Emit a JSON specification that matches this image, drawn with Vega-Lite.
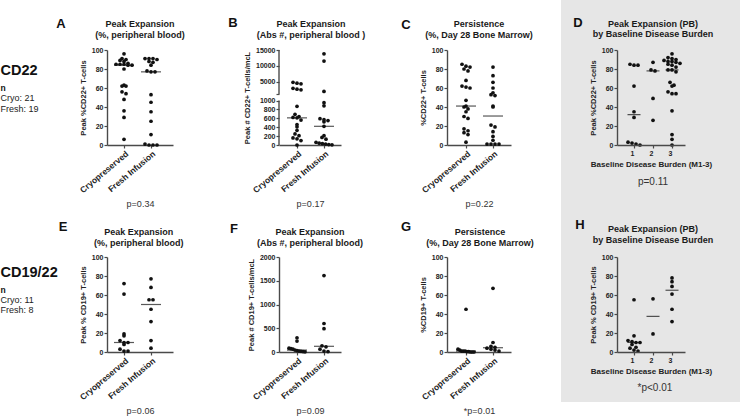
{
"$schema": "https://vega.github.io/schema/vega-lite/v6.json",
"padding": 0,
"background": "white",
"config": {
 "font": "Liberation Sans",
 "view": {"stroke": null},
 "axis": {"domainColor": "#4a4a4a", "domainWidth": 1.4, "tickColor": "#4a4a4a", "tickWidth": 1.2, "tickSize": 3, "tickCount": 50, "labelFontSize": 7, "labelFontWeight": "bold", "labelColor": "#222222", "labelPadding": 1, "labelOverlap": false, "titleFontSize": 7.5, "titleFontWeight": "bold", "titleColor": "#222222", "titlePadding": 4, "grid": false},
 "axisX": {"labelFontSize": 8.5, "labelAngle": -40, "titleFontWeight": "normal", "titleFontSize": 9, "titleColor": "#333333", "titlePadding": 5},
 "text": {"font": "Liberation Sans"}
},
"datasets": {
 "A": [
  {"group":"Cryopreserved","value":96},{"group":"Cryopreserved","value":91},{"group":"Cryopreserved","value":90},{"group":"Cryopreserved","value":89},{"group":"Cryopreserved","value":88},{"group":"Cryopreserved","value":86},{"group":"Cryopreserved","value":85},{"group":"Cryopreserved","value":85},{"group":"Cryopreserved","value":85},{"group":"Cryopreserved","value":84},{"group":"Cryopreserved","value":84},{"group":"Cryopreserved","value":80},{"group":"Cryopreserved","value":63},{"group":"Cryopreserved","value":62},{"group":"Cryopreserved","value":62},{"group":"Cryopreserved","value":56},{"group":"Cryopreserved","value":54},{"group":"Cryopreserved","value":48},{"group":"Cryopreserved","value":36},{"group":"Cryopreserved","value":29},{"group":"Cryopreserved","value":6},
  {"group":"Fresh Infusion","value":91},{"group":"Fresh Infusion","value":91},{"group":"Fresh Infusion","value":91},{"group":"Fresh Infusion","value":90},{"group":"Fresh Infusion","value":88},{"group":"Fresh Infusion","value":87},{"group":"Fresh Infusion","value":84},{"group":"Fresh Infusion","value":78},{"group":"Fresh Infusion","value":77},{"group":"Fresh Infusion","value":77},{"group":"Fresh Infusion","value":53},{"group":"Fresh Infusion","value":45},{"group":"Fresh Infusion","value":35},{"group":"Fresh Infusion","value":25},{"group":"Fresh Infusion","value":11},{"group":"Fresh Infusion","value":1},{"group":"Fresh Infusion","value":0},{"group":"Fresh Infusion","value":0},{"group":"Fresh Infusion","value":0}
 ],
 "B": [
  {"group":"Cryopreserved","value":4800},{"group":"Cryopreserved","value":4500},{"group":"Cryopreserved","value":4300},{"group":"Cryopreserved","value":2900},{"group":"Cryopreserved","value":2600},{"group":"Cryopreserved","value":2400},{"group":"Cryopreserved","value":870},{"group":"Cryopreserved","value":690},{"group":"Cryopreserved","value":640},{"group":"Cryopreserved","value":620},{"group":"Cryopreserved","value":610},{"group":"Cryopreserved","value":560},{"group":"Cryopreserved","value":460},{"group":"Cryopreserved","value":410},{"group":"Cryopreserved","value":330},{"group":"Cryopreserved","value":250},{"group":"Cryopreserved","value":210},{"group":"Cryopreserved","value":160},{"group":"Cryopreserved","value":140},{"group":"Cryopreserved","value":100},{"group":"Cryopreserved","value":0},
  {"group":"Fresh Infusion","value":13800},{"group":"Fresh Infusion","value":11500},{"group":"Fresh Infusion","value":1900},{"group":"Fresh Infusion","value":950},{"group":"Fresh Infusion","value":880},{"group":"Fresh Infusion","value":590},{"group":"Fresh Infusion","value":570},{"group":"Fresh Infusion","value":550},{"group":"Fresh Infusion","value":520},{"group":"Fresh Infusion","value":420},{"group":"Fresh Infusion","value":210},{"group":"Fresh Infusion","value":170},{"group":"Fresh Infusion","value":130},{"group":"Fresh Infusion","value":60},{"group":"Fresh Infusion","value":40},{"group":"Fresh Infusion","value":30},{"group":"Fresh Infusion","value":20},{"group":"Fresh Infusion","value":10},{"group":"Fresh Infusion","value":5}
 ],
 "C": [
  {"group":"Cryopreserved","value":85},{"group":"Cryopreserved","value":83},{"group":"Cryopreserved","value":82},{"group":"Cryopreserved","value":80},{"group":"Cryopreserved","value":78},{"group":"Cryopreserved","value":68},{"group":"Cryopreserved","value":62},{"group":"Cryopreserved","value":61},{"group":"Cryopreserved","value":60},{"group":"Cryopreserved","value":47},{"group":"Cryopreserved","value":41},{"group":"Cryopreserved","value":40},{"group":"Cryopreserved","value":38},{"group":"Cryopreserved","value":35},{"group":"Cryopreserved","value":30},{"group":"Cryopreserved","value":28},{"group":"Cryopreserved","value":17},{"group":"Cryopreserved","value":15},{"group":"Cryopreserved","value":13},{"group":"Cryopreserved","value":11},{"group":"Cryopreserved","value":3},
  {"group":"Fresh Infusion","value":82},{"group":"Fresh Infusion","value":73},{"group":"Fresh Infusion","value":66},{"group":"Fresh Infusion","value":60},{"group":"Fresh Infusion","value":55},{"group":"Fresh Infusion","value":53},{"group":"Fresh Infusion","value":52},{"group":"Fresh Infusion","value":41},{"group":"Fresh Infusion","value":40},{"group":"Fresh Infusion","value":21},{"group":"Fresh Infusion","value":19},{"group":"Fresh Infusion","value":14},{"group":"Fresh Infusion","value":9},{"group":"Fresh Infusion","value":5},{"group":"Fresh Infusion","value":1},{"group":"Fresh Infusion","value":1},{"group":"Fresh Infusion","value":1},{"group":"Fresh Infusion","value":1}
 ],
 "D": [
  {"burden":1,"value":85},{"burden":1,"value":84},{"burden":1,"value":84},{"burden":1,"value":62},{"burden":1,"value":35},{"burden":1,"value":29},{"burden":1,"value":3},{"burden":1,"value":2},{"burden":1,"value":1},{"burden":1,"value":0},
  {"burden":2,"value":87},{"burden":2,"value":79},{"burden":2,"value":78},{"burden":2,"value":49},{"burden":2,"value":26},
  {"burden":3,"value":96},{"burden":3,"value":92},{"burden":3,"value":91},{"burden":3,"value":90},{"burden":3,"value":89},{"burden":3,"value":88},{"burden":3,"value":88},{"burden":3,"value":87},{"burden":3,"value":86},{"burden":3,"value":85},{"burden":3,"value":84},{"burden":3,"value":82},{"burden":3,"value":79},{"burden":3,"value":79},{"burden":3,"value":77},{"burden":3,"value":66},{"burden":3,"value":63},{"burden":3,"value":62},{"burden":3,"value":56},{"burden":3,"value":54},{"burden":3,"value":54},{"burden":3,"value":36},{"burden":3,"value":11},{"burden":3,"value":6},{"burden":3,"value":0}
 ],
 "E": [
  {"group":"Cryopreserved","value":72},{"group":"Cryopreserved","value":61},{"group":"Cryopreserved","value":19},{"group":"Cryopreserved","value":17},{"group":"Cryopreserved","value":12},{"group":"Cryopreserved","value":10},{"group":"Cryopreserved","value":10},{"group":"Cryopreserved","value":8},{"group":"Cryopreserved","value":3},{"group":"Cryopreserved","value":1},{"group":"Cryopreserved","value":1},
  {"group":"Fresh Infusion","value":77},{"group":"Fresh Infusion","value":68},{"group":"Fresh Infusion","value":55},{"group":"Fresh Infusion","value":55},{"group":"Fresh Infusion","value":45},{"group":"Fresh Infusion","value":32},{"group":"Fresh Infusion","value":12},{"group":"Fresh Infusion","value":4}
 ],
 "F": [
  {"group":"Cryopreserved","value":300},{"group":"Cryopreserved","value":230},{"group":"Cryopreserved","value":80},{"group":"Cryopreserved","value":70},{"group":"Cryopreserved","value":60},{"group":"Cryopreserved","value":40},{"group":"Cryopreserved","value":30},{"group":"Cryopreserved","value":20},{"group":"Cryopreserved","value":15},{"group":"Cryopreserved","value":10},{"group":"Cryopreserved","value":5},
  {"group":"Fresh Infusion","value":1610},{"group":"Fresh Infusion","value":600},{"group":"Fresh Infusion","value":490},{"group":"Fresh Infusion","value":130},{"group":"Fresh Infusion","value":110},{"group":"Fresh Infusion","value":60},{"group":"Fresh Infusion","value":20},{"group":"Fresh Infusion","value":10}
 ],
 "G": [
  {"group":"Cryopreserved","value":45},{"group":"Cryopreserved","value":3},{"group":"Cryopreserved","value":2},{"group":"Cryopreserved","value":1},{"group":"Cryopreserved","value":1},{"group":"Cryopreserved","value":1},{"group":"Cryopreserved","value":0.5},{"group":"Cryopreserved","value":0.5},{"group":"Cryopreserved","value":0},{"group":"Cryopreserved","value":0},{"group":"Cryopreserved","value":0},
  {"group":"Fresh Infusion","value":67},{"group":"Fresh Infusion","value":10},{"group":"Fresh Infusion","value":6},{"group":"Fresh Infusion","value":5},{"group":"Fresh Infusion","value":4},{"group":"Fresh Infusion","value":3},{"group":"Fresh Infusion","value":2},{"group":"Fresh Infusion","value":1}
 ],
 "H": [
  {"burden":1,"value":55},{"burden":1,"value":17},{"burden":1,"value":12},{"burden":1,"value":11},{"burden":1,"value":10},{"burden":1,"value":10},{"burden":1,"value":8},{"burden":1,"value":5},{"burden":1,"value":4},{"burden":1,"value":2},{"burden":1,"value":1},
  {"burden":2,"value":56},{"burden":2,"value":19},
  {"burden":3,"value":78},{"burden":3,"value":74},{"burden":3,"value":69},{"burden":3,"value":61},{"burden":3,"value":45},{"burden":3,"value":32}
 ]
},
"columns": 5,
"spacing": {"row": 112, "column": 106},
"bounds": "flush",
"concat": [
 {
  "width": 1, "height": 95,
  "data": {"values": [{"name": "CD22", "n": "n", "cryo": "Cryo: 21", "fresh": "Fresh: 19"}]},
  "layer": [
   {"mark": {"type": "text", "align": "left", "baseline": "middle", "fontSize": 14.5, "fontWeight": "bold", "dy": -26.5, "color": "#111111"}, "encoding": {"text": {"field": "name"}}},
   {"mark": {"type": "text", "align": "left", "baseline": "middle", "fontSize": 8.5, "fontWeight": "bold", "dy": -9.5, "color": "#111111"}, "encoding": {"text": {"field": "n"}}},
   {"mark": {"type": "text", "align": "left", "baseline": "middle", "fontSize": 9, "dy": 0.5, "color": "#222222"}, "encoding": {"text": {"field": "cryo"}}},
   {"mark": {"type": "text", "align": "left", "baseline": "middle", "fontSize": 9, "dy": 11, "color": "#222222"}, "encoding": {"text": {"field": "fresh"}}}
  ]
 },
 {
  "width": 66, "height": 95,
  "data": {"name": "A"},
  "transform": [{"calculate": "datum.group === 'Cryopreserved' ? 1 : 2", "as": "gi"}],
  "layer": [
   {
    "transform": [
     {"calculate": "floor(datum.value / 4.5)", "as": "bk"},
     {"window": [{"op": "row_number", "as": "k"}, {"op": "count", "as": "n"}], "groupby": ["gi", "bk"], "sort": [{"field": "value", "order": "descending"}], "frame": [null, null]},
     {"calculate": "datum.gi + 0.148 * (datum.k - 1 - (datum.n - 1) / 2) * min(1, 4 / max(1, datum.n - 1))", "as": "xp"}
    ],
    "mark": {"type": "point", "filled": true, "size": 14, "color": "#111111", "opacity": 1},
    "encoding": {
     "x": {"field": "xp", "type": "quantitative", "scale": {"domain": [0.37, 2.815], "nice": false, "zero": false}, "axis": {"values": [1, 2], "tickCount": 20, "labelExpr": "datum.value == 1 ? 'Cryopreserved' : 'Fresh Infusion'", "title": "p=0.34"}},
     "y": {"field": "value", "type": "quantitative", "scale": {"domain": [0, 100], "nice": false, "zero": false}, "axis": {"values": [0, 20, 40, 60, 80, 100], "tickCount": 20, "title": "Peak %CD22+ T-cells"}}
    }
   },
   {
    "transform": [{"aggregate": [{"op": "median", "field": "value", "as": "value"}], "groupby": ["gi"]}],
    "mark": {"type": "tick", "orient": "horizontal", "size": 20, "thickness": 1.2, "color": "#111111"},
    "encoding": {"x": {"field": "gi", "type": "quantitative"}, "y": {"field": "value", "type": "quantitative"}}
   },
   {
    "data": {"values": [{"letter": "A", "heading": ["Peak Expansion", "(%, peripheral blood)"]}]},
    "layer": [
     {"mark": {"type": "text", "fontSize": 13, "fontWeight": "bold", "dx": -46, "dy": -26, "align": "center", "baseline": "middle", "color": "#111111"},
      "encoding": {"x": {"datum": 0.37}, "y": {"datum": 100}, "text": {"field": "letter"}}},
     {"mark": {"type": "text", "fontSize": 9, "fontWeight": "bold", "lineHeight": 10.5, "dy": -26, "align": "center", "baseline": "middle", "color": "#1a1a1a"},
      "encoding": {"x": {"datum": 1.592}, "y": {"datum": 100}, "text": {"field": "heading"}}}
    ]
   }
  ]
 },
 {
  "width": 62, "height": 95,
  "data": {"name": "B"},
  "transform": [{"calculate": "datum.group === 'Cryopreserved' ? 1 : 2", "as": "gi"}],
  "layer": [
   {
    "data": {"values": [{"part": "lower"}]},
    "mark": {"type": "rule", "color": "#4a4a4a", "strokeWidth": 1.4},
    "encoding": {"x": {"datum": 0.333}, "y": {"datum": 0}, "y2": {"datum": 1000}}
   },
   {
    "data": {"values": [{"part": "upper"}]},
    "mark": {"type": "rule", "color": "#4a4a4a", "strokeWidth": 1.4},
    "encoding": {"x": {"datum": 0.333}, "y": {"datum": 1001}, "y2": {"datum": 15000}}
   },
   {
    "transform": [
     {"calculate": "datum.value < 1000 ? floor(datum.value / 90) : 100 + floor(datum.value / 2000)", "as": "bk"},
     {"window": [{"op": "row_number", "as": "k"}, {"op": "count", "as": "n"}], "groupby": ["gi", "bk"], "sort": [{"field": "value", "order": "descending"}], "frame": [null, null]},
     {"calculate": "datum.gi + 0.148 * (datum.k - 1 - (datum.n - 1) / 2) * min(1, 4 / max(1, datum.n - 1))", "as": "xp"}
    ],
    "mark": {"type": "point", "filled": true, "size": 14, "color": "#111111", "opacity": 1},
    "encoding": {
     "x": {"field": "xp", "type": "quantitative", "scale": {"domain": [0.333, 2.63], "nice": false, "zero": false}, "axis": {"values": [1, 2], "tickCount": 20, "labelExpr": "datum.value == 1 ? 'Cryopreserved' : 'Fresh Infusion'", "title": "p=0.17"}},
     "y": {"field": "value", "type": "quantitative", "scale": {"domain": [0, 1000, 1001, 15000], "range": [95, 50.5, 44.3, 0], "nice": false, "zero": false}, "axis": {"values": [0, 200, 400, 600, 800, 1000, 1001, 5000, 10000, 15000], "tickCount": 20, "labelExpr": "datum.value == 1001 ? '' : format(datum.value, 'd')", "domain": false, "title": "Peak # CD22+ T-cells/mcL"}}
    }
   },
   {
    "transform": [{"aggregate": [{"op": "median", "field": "value", "as": "value"}], "groupby": ["gi"]}],
    "mark": {"type": "tick", "orient": "horizontal", "size": 20, "thickness": 1.2, "color": "#111111"},
    "encoding": {"x": {"field": "gi", "type": "quantitative"}, "y": {"field": "value", "type": "quantitative"}}
   },
   {
    "data": {"values": [{"letter": "B", "heading": ["Peak Expansion", "(Abs #, peripheral blood )"]}]},
    "layer": [
     {"mark": {"type": "text", "fontSize": 13, "fontWeight": "bold", "dx": -46, "dy": -27, "align": "center", "baseline": "middle", "color": "#111111"},
      "encoding": {"x": {"datum": 0.333}, "y": {"datum": 15000}, "text": {"field": "letter"}}},
     {"mark": {"type": "text", "fontSize": 9, "fontWeight": "bold", "lineHeight": 10.5, "dy": -26, "align": "center", "baseline": "middle", "color": "#1a1a1a"},
      "encoding": {"x": {"datum": 1.518}, "y": {"datum": 15000}, "text": {"field": "heading"}}}
    ]
   }
  ]
 },
 {
  "width": 64, "height": 95,
  "data": {"name": "C"},
  "transform": [{"calculate": "datum.group === 'Cryopreserved' ? 1 : 2", "as": "gi"}],
  "layer": [
   {
    "transform": [
     {"calculate": "floor(datum.value / 4.5)", "as": "bk"},
     {"window": [{"op": "row_number", "as": "k"}, {"op": "count", "as": "n"}], "groupby": ["gi", "bk"], "sort": [{"field": "value", "order": "descending"}], "frame": [null, null]},
     {"calculate": "datum.gi + 0.148 * (datum.k - 1 - (datum.n - 1) / 2) * min(1, 4 / max(1, datum.n - 1))", "as": "xp"}
    ],
    "mark": {"type": "point", "filled": true, "size": 14, "color": "#111111", "opacity": 1},
    "encoding": {
     "x": {"field": "xp", "type": "quantitative", "scale": {"domain": [0.296, 2.667], "nice": false, "zero": false}, "axis": {"values": [1, 2], "tickCount": 20, "labelExpr": "datum.value == 1 ? 'Cryopreserved' : 'Fresh Infusion'", "title": "p=0.22"}},
     "y": {"field": "value", "type": "quantitative", "scale": {"domain": [0, 100], "nice": false, "zero": false}, "axis": {"values": [0, 20, 40, 60, 80, 100], "tickCount": 20, "title": "%CD22+ T-cells"}}
    }
   },
   {
    "transform": [{"aggregate": [{"op": "median", "field": "value", "as": "value"}], "groupby": ["gi"]}],
    "mark": {"type": "tick", "orient": "horizontal", "size": 20, "thickness": 1.2, "color": "#111111"},
    "encoding": {"x": {"field": "gi", "type": "quantitative"}, "y": {"field": "value", "type": "quantitative"}}
   },
   {
    "data": {"values": [{"letter": "C", "heading": ["Persistence", "(%, Day 28 Bone Marrow)"]}]},
    "layer": [
     {"mark": {"type": "text", "fontSize": 13, "fontWeight": "bold", "dx": -41, "dy": -25, "align": "center", "baseline": "middle", "color": "#111111"},
      "encoding": {"x": {"datum": 0.296}, "y": {"datum": 100}, "text": {"field": "letter"}}},
     {"mark": {"type": "text", "fontSize": 9, "fontWeight": "bold", "lineHeight": 10.5, "dy": -26, "align": "center", "baseline": "middle", "color": "#1a1a1a"},
      "encoding": {"x": {"datum": 1.481}, "y": {"datum": 100}, "text": {"field": "heading"}}}
    ]
   }
  ]
 },
 {
  "width": 68, "height": 95,
  "data": {"name": "D"},
  "layer": [
   {
    "data": {"values": [{"panel": "D"}]},
    "mark": {"type": "rect", "color": "#e6e6e6", "clip": false},
    "encoding": {"x": {"datum": -2.842}, "x2": {"datum": 6.579}, "y": {"datum": 152.6}, "y2": {"datum": -64.2}}
   },
   {
    "transform": [
     {"calculate": "floor(datum.value / 4.5)", "as": "bk"},
     {"window": [{"op": "row_number", "as": "k"}, {"op": "count", "as": "n"}], "groupby": ["burden", "bk"], "sort": [{"field": "value", "order": "descending"}], "frame": [null, null]},
     {"calculate": "datum.burden + 0.21 * (datum.k - 1 - (datum.n - 1) / 2) * min(1, 4 / max(1, datum.n - 1))", "as": "xp"}
    ],
    "mark": {"type": "point", "filled": true, "size": 14, "color": "#111111", "opacity": 1},
    "encoding": {
     "x": {"field": "xp", "type": "quantitative", "scale": {"domain": [0.105, 3.684], "nice": false, "zero": false}, "axis": {"values": [1, 2, 3], "tickCount": 20, "format": "d", "labelAngle": 0, "labelFontSize": 7, "title": "Baseline Disease Burden (M1-3)", "titleFontWeight": "bold", "titleFontSize": 8, "titleColor": "#222222", "titlePadding": 4, "zindex": 1}},
     "y": {"field": "value", "type": "quantitative", "scale": {"domain": [0, 100], "nice": false, "zero": false}, "axis": {"values": [0, 20, 40, 60, 80, 100], "tickCount": 20, "title": "Peak %CD22+ T-cells", "zindex": 1}}
    }
   },
   {
    "transform": [{"aggregate": [{"op": "median", "field": "value", "as": "value"}], "groupby": ["burden"]}],
    "mark": {"type": "tick", "orient": "horizontal", "size": 13, "thickness": 1.2, "color": "#111111"},
    "encoding": {"x": {"field": "burden", "type": "quantitative"}, "y": {"field": "value", "type": "quantitative"}}
   },
   {
    "data": {"values": [{"letter": "D", "heading": ["Peak Expansion (PB)", "by Baseline Disease Burden"], "p": "p=0.11"}]},
    "layer": [
     {"mark": {"type": "text", "fontSize": 13, "fontWeight": "bold", "dx": -39, "dy": -27.5, "align": "center", "baseline": "middle", "color": "#111111"},
      "encoding": {"x": {"datum": 0.105}, "y": {"datum": 100}, "text": {"field": "letter"}}},
     {"mark": {"type": "text", "fontSize": 9, "fontWeight": "bold", "lineHeight": 10.5, "dy": -26.5, "align": "center", "baseline": "middle", "color": "#1a1a1a"},
      "encoding": {"x": {"datum": 2.0}, "y": {"datum": 100}, "text": {"field": "heading"}}},
     {"mark": {"type": "text", "fontSize": 10, "dy": 37, "align": "center", "baseline": "middle", "color": "#333333"},
      "encoding": {"x": {"datum": 2.0}, "y": {"datum": 0}, "text": {"field": "p"}}}
    ]
   }
  ]
 },
 {
  "width": 1, "height": 95,
  "data": {"values": [{"name": "CD19/22", "n": "n", "cryo": "Cryo: 11", "fresh": "Fresh: 8"}]},
  "layer": [
   {"mark": {"type": "text", "align": "left", "baseline": "middle", "fontSize": 14.5, "fontWeight": "bold", "dy": -31.5, "color": "#111111"}, "encoding": {"text": {"field": "name"}}},
   {"mark": {"type": "text", "align": "left", "baseline": "middle", "fontSize": 8.5, "fontWeight": "bold", "dy": -14.5, "color": "#111111"}, "encoding": {"text": {"field": "n"}}},
   {"mark": {"type": "text", "align": "left", "baseline": "middle", "fontSize": 9, "dy": -5, "color": "#222222"}, "encoding": {"text": {"field": "cryo"}}},
   {"mark": {"type": "text", "align": "left", "baseline": "middle", "fontSize": 9, "dy": 5, "color": "#222222"}, "encoding": {"text": {"field": "fresh"}}}
  ]
 },
 {
  "width": 66, "height": 95,
  "data": {"name": "E"},
  "transform": [{"calculate": "datum.group === 'Cryopreserved' ? 1 : 2", "as": "gi"}],
  "layer": [
   {
    "transform": [
     {"calculate": "floor(datum.value / 4.5)", "as": "bk"},
     {"window": [{"op": "row_number", "as": "k"}, {"op": "count", "as": "n"}], "groupby": ["gi", "bk"], "sort": [{"field": "value", "order": "descending"}], "frame": [null, null]},
     {"calculate": "datum.gi + 0.148 * (datum.k - 1 - (datum.n - 1) / 2) * min(1, 4 / max(1, datum.n - 1))", "as": "xp"}
    ],
    "mark": {"type": "point", "filled": true, "size": 14, "color": "#111111", "opacity": 1},
    "encoding": {
     "x": {"field": "xp", "type": "quantitative", "scale": {"domain": [0.37, 2.815], "nice": false, "zero": false}, "axis": {"values": [1, 2], "tickCount": 20, "labelExpr": "datum.value == 1 ? 'Cryopreserved' : 'Fresh Infusion'", "title": "p=0.06"}},
     "y": {"field": "value", "type": "quantitative", "scale": {"domain": [0, 100], "nice": false, "zero": false}, "axis": {"values": [0, 20, 40, 60, 80, 100], "tickCount": 20, "title": "Peak % CD19+ T-cells"}}
    }
   },
   {
    "transform": [{"aggregate": [{"op": "median", "field": "value", "as": "value"}], "groupby": ["gi"]}],
    "mark": {"type": "tick", "orient": "horizontal", "size": 20, "thickness": 1.2, "color": "#111111"},
    "encoding": {"x": {"field": "gi", "type": "quantitative"}, "y": {"field": "value", "type": "quantitative"}}
   },
   {
    "data": {"values": [{"letter": "E", "heading": ["Peak Expansion", "(%, peripheral blood)"]}]},
    "layer": [
     {"mark": {"type": "text", "fontSize": 13, "fontWeight": "bold", "dx": -44, "dy": -30, "align": "center", "baseline": "middle", "color": "#111111"},
      "encoding": {"x": {"datum": 0.37}, "y": {"datum": 100}, "text": {"field": "letter"}}},
     {"mark": {"type": "text", "fontSize": 9, "fontWeight": "bold", "lineHeight": 10.5, "dy": -25, "align": "center", "baseline": "middle", "color": "#1a1a1a"},
      "encoding": {"x": {"datum": 1.55}, "y": {"datum": 100}, "text": {"field": "heading"}}}
    ]
   }
  ]
 },
 {
  "width": 62, "height": 95,
  "data": {"name": "F"},
  "transform": [{"calculate": "datum.group === 'Cryopreserved' ? 1 : 2", "as": "gi"}],
  "layer": [
   {
    "transform": [
     {"calculate": "floor(datum.value / 90)", "as": "bk"},
     {"window": [{"op": "row_number", "as": "k"}, {"op": "count", "as": "n"}], "groupby": ["gi", "bk"], "sort": [{"field": "value", "order": "descending"}], "frame": [null, null]},
     {"calculate": "datum.gi + 0.148 * (datum.k - 1 - (datum.n - 1) / 2) * min(1, 4 / max(1, datum.n - 1))", "as": "xp"}
    ],
    "mark": {"type": "point", "filled": true, "size": 14, "color": "#111111", "opacity": 1},
    "encoding": {
     "x": {"field": "xp", "type": "quantitative", "scale": {"domain": [0.333, 2.63], "nice": false, "zero": false}, "axis": {"values": [1, 2], "tickCount": 20, "labelExpr": "datum.value == 1 ? 'Cryopreserved' : 'Fresh Infusion'", "title": "p=0.09"}},
     "y": {"field": "value", "type": "quantitative", "scale": {"domain": [0, 2000], "nice": false, "zero": false}, "axis": {"values": [0, 500, 1000, 1500, 2000], "tickCount": 20, "format": "d", "title": "Peak # CD19+ T-cells/mcL"}}
    }
   },
   {
    "transform": [{"aggregate": [{"op": "median", "field": "value", "as": "value"}], "groupby": ["gi"]}],
    "mark": {"type": "tick", "orient": "horizontal", "size": 20, "thickness": 1.2, "color": "#111111"},
    "encoding": {"x": {"field": "gi", "type": "quantitative"}, "y": {"field": "value", "type": "quantitative"}}
   },
   {
    "data": {"values": [{"letter": "F", "heading": ["Peak Expansion", "(Abs #, peripheral blood)"]}]},
    "layer": [
     {"mark": {"type": "text", "fontSize": 13, "fontWeight": "bold", "dx": -45, "dy": -28, "align": "center", "baseline": "middle", "color": "#111111"},
      "encoding": {"x": {"datum": 0.333}, "y": {"datum": 2000}, "text": {"field": "letter"}}},
     {"mark": {"type": "text", "fontSize": 9, "fontWeight": "bold", "lineHeight": 10.5, "dy": -25, "align": "center", "baseline": "middle", "color": "#1a1a1a"},
      "encoding": {"x": {"datum": 1.48}, "y": {"datum": 2000}, "text": {"field": "heading"}}}
    ]
   }
  ]
 },
 {
  "width": 64, "height": 95,
  "data": {"name": "G"},
  "transform": [{"calculate": "datum.group === 'Cryopreserved' ? 1 : 2", "as": "gi"}],
  "layer": [
   {
    "transform": [
     {"calculate": "floor(datum.value / 4.5)", "as": "bk"},
     {"window": [{"op": "row_number", "as": "k"}, {"op": "count", "as": "n"}], "groupby": ["gi", "bk"], "sort": [{"field": "value", "order": "descending"}], "frame": [null, null]},
     {"calculate": "datum.gi + 0.148 * (datum.k - 1 - (datum.n - 1) / 2) * min(1, 4 / max(1, datum.n - 1))", "as": "xp"}
    ],
    "mark": {"type": "point", "filled": true, "size": 14, "color": "#111111", "opacity": 1},
    "encoding": {
     "x": {"field": "xp", "type": "quantitative", "scale": {"domain": [0.296, 2.667], "nice": false, "zero": false}, "axis": {"values": [1, 2], "tickCount": 20, "labelExpr": "datum.value == 1 ? 'Cryopreserved' : 'Fresh Infusion'", "title": "*p=0.01"}},
     "y": {"field": "value", "type": "quantitative", "scale": {"domain": [0, 100], "nice": false, "zero": false}, "axis": {"values": [0, 20, 40, 60, 80, 100], "tickCount": 20, "title": "%CD19+ T-cells"}}
    }
   },
   {
    "transform": [{"aggregate": [{"op": "median", "field": "value", "as": "value"}], "groupby": ["gi"]}],
    "mark": {"type": "tick", "orient": "horizontal", "size": 20, "thickness": 1.2, "color": "#111111"},
    "encoding": {"x": {"field": "gi", "type": "quantitative"}, "y": {"field": "value", "type": "quantitative"}}
   },
   {
    "data": {"values": [{"letter": "G", "heading": ["Persistence", "(%, Day 28 Bone Marrow)"]}]},
    "layer": [
     {"mark": {"type": "text", "fontSize": 13, "fontWeight": "bold", "dx": -41, "dy": -30, "align": "center", "baseline": "middle", "color": "#111111"},
      "encoding": {"x": {"datum": 0.296}, "y": {"datum": 100}, "text": {"field": "letter"}}},
     {"mark": {"type": "text", "fontSize": 9, "fontWeight": "bold", "lineHeight": 10.5, "dy": -25, "align": "center", "baseline": "middle", "color": "#1a1a1a"},
      "encoding": {"x": {"datum": 1.52}, "y": {"datum": 100}, "text": {"field": "heading"}}}
    ]
   }
  ]
 },
 {
  "width": 68, "height": 95,
  "data": {"name": "H"},
  "layer": [
   {
    "data": {"values": [{"panel": "H"}]},
    "mark": {"type": "rect", "color": "#e6e6e6", "clip": false},
    "encoding": {"x": {"datum": -2.842}, "x2": {"datum": 6.579}, "y": {"datum": 155.8}, "y2": {"datum": -52.6}}
   },
   {
    "transform": [
     {"calculate": "floor(datum.value / 4.5)", "as": "bk"},
     {"window": [{"op": "row_number", "as": "k"}, {"op": "count", "as": "n"}], "groupby": ["burden", "bk"], "sort": [{"field": "value", "order": "descending"}], "frame": [null, null]},
     {"calculate": "datum.burden + 0.21 * (datum.k - 1 - (datum.n - 1) / 2) * min(1, 4 / max(1, datum.n - 1))", "as": "xp"}
    ],
    "mark": {"type": "point", "filled": true, "size": 14, "color": "#111111", "opacity": 1},
    "encoding": {
     "x": {"field": "xp", "type": "quantitative", "scale": {"domain": [0.105, 3.684], "nice": false, "zero": false}, "axis": {"values": [1, 2, 3], "tickCount": 20, "format": "d", "labelAngle": 0, "labelFontSize": 7, "title": "Baseline Disease Burden (M1-3)", "titleFontWeight": "bold", "titleFontSize": 8, "titleColor": "#222222", "titlePadding": 4, "zindex": 1}},
     "y": {"field": "value", "type": "quantitative", "scale": {"domain": [0, 100], "nice": false, "zero": false}, "axis": {"values": [0, 20, 40, 60, 80, 100], "tickCount": 20, "title": "Peak % CD19+ T-cells", "zindex": 1}}
    }
   },
   {
    "transform": [{"aggregate": [{"op": "median", "field": "value", "as": "value"}], "groupby": ["burden"]}],
    "mark": {"type": "tick", "orient": "horizontal", "size": 13, "thickness": 1.2, "color": "#111111"},
    "encoding": {"x": {"field": "burden", "type": "quantitative"}, "y": {"field": "value", "type": "quantitative"}}
   },
   {
    "data": {"values": [{"letter": "H", "heading": ["Peak Expansion  (PB)", "by Baseline Disease Burden"], "p": "*p<0.01"}]},
    "layer": [
     {"mark": {"type": "text", "fontSize": 13, "fontWeight": "bold", "dx": -37, "dy": -32, "align": "center", "baseline": "middle", "color": "#111111"},
      "encoding": {"x": {"datum": 0.105}, "y": {"datum": 100}, "text": {"field": "letter"}}},
     {"mark": {"type": "text", "fontSize": 9, "fontWeight": "bold", "lineHeight": 10.5, "dy": -28, "align": "center", "baseline": "middle", "color": "#1a1a1a"},
      "encoding": {"x": {"datum": 2.0}, "y": {"datum": 100}, "text": {"field": "heading"}}},
     {"mark": {"type": "text", "fontSize": 10, "dy": 36, "align": "center", "baseline": "middle", "color": "#333333"},
      "encoding": {"x": {"datum": 2.1}, "y": {"datum": 0}, "text": {"field": "p"}}}
    ]
   }
  ]
 }
]
}
